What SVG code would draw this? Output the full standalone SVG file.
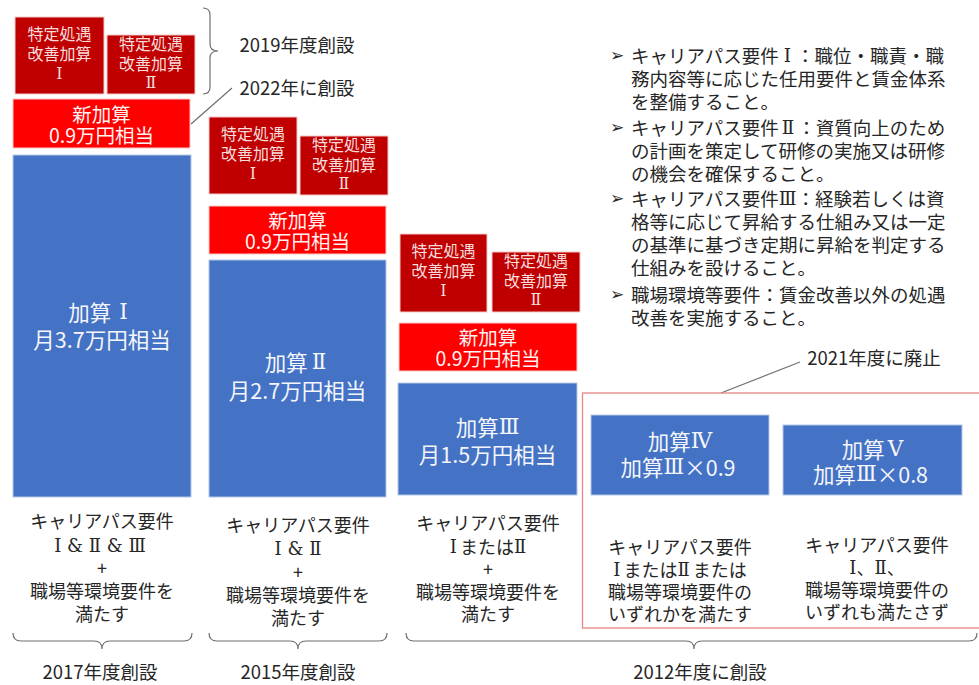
<svg xmlns="http://www.w3.org/2000/svg" width="979" height="685" viewBox="0 0 979 685">
<style>
text{font-family:"Noto Sans CJK JP","Noto Sans",sans-serif;dominant-baseline:central;text-anchor:middle}
.rn{font-family:"DejaVu Serif","Noto Sans CJK JP",serif}
.dr{fill:#C00000;stroke:#F3C9C9;stroke-width:1}
.rd{fill:#FF0000;stroke:#FBCACA;stroke-width:1}
.bl{fill:#4472C4;stroke:#B4C7E7;stroke-width:1}
.tdr{fill:#F6DCDC;font-size:16px}
.trd{fill:#FFF2F2;font-size:19.5px}
.tbl{fill:#F4F6FB;font-size:21.5px}
.tk{fill:#262626;font-size:18px}
.lab{fill:#262626;font-size:18.5px}
.bul{fill:#262626;font-size:18.5px;text-anchor:start}
.arr{fill:#262626;font-size:17px;text-anchor:start;font-family:"DejaVu Sans",sans-serif}
.cn{fill:none;stroke:#6F6F6F;stroke-width:1.2}
</style>
<rect width="979" height="685" fill="#FFFFFF"/>

<g id="connectors">
<path class="cn" d="M203 8 Q210 8 210 15 L210 44 Q210 51 218 51 Q210 51 210 58 L210 87 Q210 94 203 94"/>
<path class="cn" d="M13 633 Q13 641 21 641 L94 641 Q102 641 102 649 Q102 641 110 641 L184 641 Q192 641 192 633"/>
<path class="cn" d="M209 633 Q209 641 217 641 L290 641 Q298 641 298 649 Q298 641 306 641 L379 641 Q387 641 387 633"/>
<path class="cn" d="M406 633 Q406 641 414 641 L686 641 Q694 641 694 649 Q694 641 702 641 L969 641 Q977 641 977 633"/>
<line class="cn" x1="191" y1="124" x2="232" y2="88"/>
<line class="cn" x1="721" y1="393" x2="800" y2="362"/>
</g>

<g id="abolished-frame">
<rect x="582.5" y="393" width="402" height="235" fill="none" stroke="#E98585" stroke-width="1.3"/>
</g>

<g id="col1-tokutei1"><rect class="dr" x="15" y="17" width="89" height="77"/>
<text class="tdr" x="59.5" y="33">特定処遇<tspan x="59.5" dy="20">改善加算</tspan><tspan class="rn" x="59.5" dy="20">Ⅰ</tspan></text></g>
<g id="col1-tokutei2"><rect class="dr" x="107" y="35" width="88" height="59"/>
<text class="tdr" x="151" y="43">特定処遇<tspan x="151" dy="19.5">改善加算</tspan><tspan class="rn" x="151" dy="19.5">Ⅱ</tspan></text></g>
<g id="col1-shin"><rect class="rd" x="13" y="99" width="177" height="49"/>
<text class="trd" x="101.5" y="113">新加算<tspan x="101.5" dy="21">0.9万円相当</tspan></text></g>
<g id="col1-kasan1"><rect class="bl" x="13" y="155" width="178" height="342"/>
<text class="tbl" x="98" y="311">加算<tspan class="rn" dx="8">Ⅰ</tspan><tspan x="102" dy="27">月3.7万円相当</tspan></text></g>

<g id="col2-tokutei1"><rect class="dr" x="209" y="117" width="88" height="77"/>
<text class="tdr" x="253" y="133">特定処遇<tspan x="253" dy="20">改善加算</tspan><tspan class="rn" x="253" dy="20">Ⅰ</tspan></text></g>
<g id="col2-tokutei2"><rect class="dr" x="300" y="136" width="88" height="59"/>
<text class="tdr" x="344" y="144">特定処遇<tspan x="344" dy="19.5">改善加算</tspan><tspan class="rn" x="344" dy="19.5">Ⅱ</tspan></text></g>
<g id="col2-shin"><rect class="rd" x="209" y="206" width="177" height="48"/>
<text class="trd" x="297.5" y="219">新加算<tspan x="297.5" dy="21">0.9万円相当</tspan></text></g>
<g id="col2-kasan2"><rect class="bl" x="209" y="260" width="177" height="237"/>
<text class="tbl" x="295.5" y="361">加算<tspan class="rn" dx="4">Ⅱ</tspan><tspan x="297.5" dy="28">月2.7万円相当</tspan></text></g>

<g id="col3-tokutei1"><rect class="dr" x="400" y="234" width="87" height="78"/>
<text class="tdr" x="443.5" y="250">特定処遇<tspan x="443.5" dy="20">改善加算</tspan><tspan class="rn" x="443.5" dy="20">Ⅰ</tspan></text></g>
<g id="col3-tokutei2"><rect class="dr" x="492" y="252" width="88" height="60"/>
<text class="tdr" x="536" y="260">特定処遇<tspan x="536" dy="19.5">改善加算</tspan><tspan class="rn" x="536" dy="19.5">Ⅱ</tspan></text></g>
<g id="col3-shin"><rect class="rd" x="399" y="323" width="178" height="48"/>
<text class="trd" x="488" y="336">新加算<tspan x="488" dy="21">0.9万円相当</tspan></text></g>
<g id="col3-kasan3"><rect class="bl" x="398" y="383" width="179" height="112"/>
<text class="tbl" x="487.5" y="426">加算<tspan class="rn">Ⅲ</tspan><tspan x="487.5" dy="27">月1.5万円相当</tspan></text></g>

<g id="col4-kasan4"><rect class="bl" x="591" y="415" width="178" height="80"/>
<text class="tbl" x="680" y="440">加算<tspan class="rn">Ⅳ</tspan><tspan x="678" dy="26">加算<tspan class="rn">Ⅲ</tspan>×0.9</tspan></text></g>
<g id="col5-kasan5"><rect class="bl" x="783" y="425" width="179" height="70"/>
<text class="tbl" x="872.5" y="448">加算<tspan class="rn" dx="3">Ⅴ</tspan><tspan x="870.5" dy="25">加算<tspan class="rn">Ⅲ</tspan>×0.8</tspan></text></g>

<g id="col1-req">
<text class="tk" x="102" y="520">キャリアパス要件<tspan class="rn" x="100" dy="25">Ⅰ &amp; Ⅱ &amp; Ⅲ</tspan><tspan x="102" dy="22">+</tspan><tspan x="102" dy="23">職場等環境要件を</tspan><tspan x="102" dy="23">満たす</tspan></text></g>
<g id="col2-req">
<text class="tk" x="298" y="524">キャリアパス要件<tspan class="rn" x="298" dy="24">Ⅰ &amp; Ⅱ</tspan><tspan x="298" dy="23">+</tspan><tspan x="298" dy="23">職場等環境要件を</tspan><tspan x="298" dy="23">満たす</tspan></text></g>
<g id="col3-req">
<text class="tk" x="488" y="522"><tspan>キャリアパス要件</tspan><tspan x="488" dy="24"><tspan class="rn">Ⅰ</tspan><tspan dx="3">または</tspan><tspan class="rn">Ⅱ</tspan></tspan><tspan x="488" dy="22">+</tspan><tspan x="488" dy="23">職場等環境要件を</tspan><tspan x="488" dy="22">満たす</tspan></text></g>
<g id="col4-req">
<text class="tk" x="680" y="546"><tspan>キャリアパス要件</tspan><tspan x="680" dy="23"><tspan class="rn">Ⅰ</tspan><tspan dx="3">または</tspan><tspan class="rn">Ⅱ</tspan><tspan dx="3">または</tspan></tspan><tspan x="680" dy="22">職場等環境要件の</tspan><tspan x="680" dy="22">いずれかを満たす</tspan></text></g>
<g id="col5-req">
<text class="tk" x="877" y="544"><tspan>キャリアパス要件</tspan><tspan x="877" dy="23"><tspan class="rn">Ⅰ</tspan>、<tspan class="rn">Ⅱ</tspan>、</tspan><tspan x="877" dy="22">職場等環境要件の</tspan><tspan x="877" dy="22">いずれも満たさず</tspan></text></g>

<g id="labels">
<text class="lab" x="297" y="44">2019年度創設</text>
<text class="lab" x="297" y="87">2022年に創設</text>
<text class="lab" x="874" y="357">2021年度に廃止</text>
<text class="lab" x="100" y="671">2017年度創設</text>
<text class="lab" x="298" y="671">2015年度創設</text>
<text class="lab" x="700" y="671">2012年度に創設</text>
</g>

<g id="notes">
<text class="arr" x="610" y="55">➢</text>
<text class="arr" x="610" y="127">➢</text>
<text class="arr" x="610" y="198">➢</text>
<text class="arr" x="610" y="294">➢</text>
<text class="bul" x="631" y="55">キャリアパス要件<tspan class="rn" dx="5">Ⅰ</tspan><tspan dx="5">：職位・職責・職</tspan><tspan x="631" dy="23">務内容等に応じた任用要件と賃金体系</tspan><tspan x="631" dy="23">を整備すること。</tspan></text>
<text class="bul" x="631" y="127">キャリアパス要件<tspan class="rn" dx="3">Ⅱ</tspan><tspan dx="3">：資質向上のため</tspan><tspan x="631" dy="23">の計画を策定して研修の実施又は研修</tspan><tspan x="631" dy="23">の機会を確保すること。</tspan></text>
<text class="bul" x="631" y="198">キャリアパス要件<tspan class="rn">Ⅲ</tspan>：経験若しくは資<tspan x="631" dy="23">格等に応じて昇給する仕組み又は一定</tspan><tspan x="631" dy="23">の基準に基づき定期に昇給を判定する</tspan><tspan x="631" dy="23">仕組みを設けること。</tspan></text>
<text class="bul" x="631" y="294">職場環境等要件：賃金改善以外の処遇<tspan x="631" dy="23">改善を実施すること。</tspan></text>
</g>
</svg>
